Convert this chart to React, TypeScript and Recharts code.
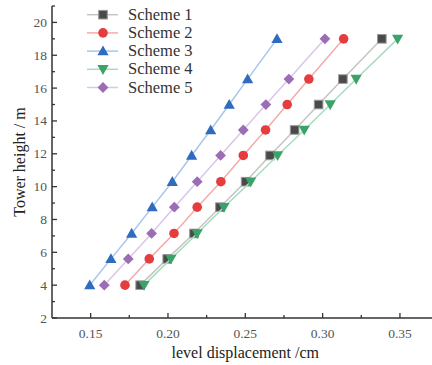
import React from 'react';
import { ScatterChart, Scatter, XAxis, YAxis, Legend } from 'recharts';

const heights = [4, 5.6, 7.15, 8.75, 10.3, 11.9, 13.45, 15, 16.55, 19];
const scheme1 = [0.182, 0.1995, 0.2168, 0.2336, 0.2502, 0.266, 0.2819, 0.2974, 0.3131, 0.3383];
const scheme2 = [0.1722, 0.1879, 0.2039, 0.2189, 0.2342, 0.2487, 0.2631, 0.2771, 0.2911, 0.3136];
const scheme3 = [0.1494, 0.1631, 0.1765, 0.1898, 0.2028, 0.2153, 0.2276, 0.2396, 0.2515, 0.2705];
const scheme4 = [0.1845, 0.2019, 0.2189, 0.2362, 0.2535, 0.2709, 0.2881, 0.3049, 0.3217, 0.3485];
const scheme5 = [0.1588, 0.1743, 0.1894, 0.2041, 0.2189, 0.234, 0.2487, 0.2633, 0.2782, 0.3015];
const seriesNames = ['Scheme 1', 'Scheme 2', 'Scheme 3', 'Scheme 4', 'Scheme 5'];
const xTicks = [0.15, 0.175, 0.2, 0.225, 0.25, 0.275, 0.3, 0.325, 0.35];
const yTicks = [2, 3, 4, 5, 6, 7, 8, 9, 10, 11, 12, 13, 14, 15, 16, 17, 18, 19, 20, 21];

const seriesValues = [scheme1, scheme2, scheme3, scheme4, scheme5];
const markerColors = ['#4a4a4a', '#e53d3d', '#2f6cc0', '#3aa468', '#9b6db5'];
const lineColors = ['#c4c4c4', '#f4abab', '#a9c6ea', '#a8dcc0', '#d9c6e8'];
const shapes = ['square', 'circle', 'triangle', 'down', 'diamond'];

const FONT = '"Liberation Serif", "DejaVu Serif", serif';

function Marker({ kind, cx, cy, color }: any) {
  const s = 4.3;
  if (kind === 'square') {
    return <rect x={cx - s} y={cy - s} width={2 * s} height={2 * s} fill={color} stroke="#9a9a9a" strokeWidth={1} />;
  }
  if (kind === 'circle') {
    return <circle cx={cx} cy={cy} r={4.8} fill={color} />;
  }
  if (kind === 'triangle') {
    const r = 5.6;
    return <polygon points={`${cx},${cy - r} ${cx + r},${cy + r * 0.75} ${cx - r},${cy + r * 0.75}`} fill={color} />;
  }
  if (kind === 'down') {
    const r = 5.6;
    return <polygon points={`${cx},${cy + r} ${cx + r},${cy - r * 0.75} ${cx - r},${cy - r * 0.75}`} fill={color} />;
  }
  const r = 5.4;
  return <polygon points={`${cx},${cy - r} ${cx + r},${cy} ${cx},${cy + r} ${cx - r},${cy}`} fill={color} />;
}

function isMajorX(v: number) {
  return Math.abs(v * 20 - Math.round(v * 20)) < 1e-6;
}

function XTick(props: any) {
  const { x, y, payload } = props;
  const v = payload.value;
  const major = isMajorX(v);
  return (
    <g>
      <line x1={x} y1={y} x2={x} y2={y - (major ? 5 : 3)} stroke="#333" strokeWidth={1.3} />
      {major && (
        <text x={x} y={y + 20} textAnchor="middle" style={{ fontFamily: FONT, fontSize: 13.5 }} fill="#555">
          {v.toFixed(2)}
        </text>
      )}
    </g>
  );
}

function YTick(props: any) {
  const { x, y, payload } = props;
  const v = payload.value;
  const major = v % 2 === 0;
  return (
    <g>
      <line x1={x} y1={y} x2={x + (major ? 5 : 3)} y2={y} stroke="#333" strokeWidth={1.3} />
      {major && (
        <text x={x - 5} y={y + 4.5} textAnchor="end" style={{ fontFamily: FONT, fontSize: 13.5 }} fill="#555">
          {v}
        </text>
      )}
    </g>
  );
}

function LegendContent() {
  return (
    <svg width={160} height={100} style={{ display: 'block' }}>
      {seriesNames.map((name, i) => {
        const cy = 14.7 + i * 18.2;
        return (
          <g key={name}>
            <line x1={7} y1={cy} x2={38} y2={cy} stroke={lineColors[i]} strokeWidth={1.5} />
            <Marker kind={shapes[i]} cx={23} cy={cy} color={markerColors[i]} />
            <text x={48} y={cy + 5} style={{ fontFamily: FONT, fontSize: 16.5 }} fill="#333">
              {name}
            </text>
          </g>
        );
      })}
    </svg>
  );
}

export default function App() {
  const datasets = seriesValues.map((vals) => vals.map((v, i) => ({ x: v, y: heights[i] })));
  return (
    <div style={{ position: 'absolute', left: 0, top: 0, width: 432, height: 365, overflow: 'hidden', background: '#fff' }}>
      <ScatterChart width={440} height={365} margin={{ top: 6, right: 1.4, bottom: 0, left: 0 }}>
        <XAxis
          type="number"
          dataKey="x"
          domain={[0.125, 0.375]}
          ticks={xTicks}
          interval={0}
          tick={<XTick />}
          tickLine={false}
          tickSize={0}
          tickMargin={0}
          height={47}
          axisLine={{ stroke: '#333', strokeWidth: 1.5 }}
          allowDataOverflow
          label={{ value: 'level displacement /cm', position: 'insideBottom', offset: 7, style: { fontFamily: FONT, fontSize: 16 }, fill: '#222' }}
        />
        <YAxis
          type="number"
          dataKey="y"
          domain={[2, 21]}
          ticks={yTicks}
          interval={0}
          tick={<YTick />}
          tickLine={false}
          tickSize={0}
          tickMargin={0}
          width={52}
          axisLine={{ stroke: '#333', strokeWidth: 1.5 }}
          allowDataOverflow
          label={{ value: 'Tower height / m', angle: -90, position: 'insideLeft', offset: 19, style: { textAnchor: 'middle', fontFamily: FONT, fontSize: 16 }, fill: '#222' }}
        />
        <Legend
          layout="vertical"
          align="center"
          verticalAlign="middle"
          content={<LegendContent />}
          wrapperStyle={{ position: 'absolute', left: 80, top: 0, width: 160, height: 100 }}
        />
        {datasets.map((d, i) => (
          <Scatter
            key={seriesNames[i]}
            name={seriesNames[i]}
            data={d}
            isAnimationActive={false}
            line={{ stroke: lineColors[i], strokeWidth: 1.5 }}
            shape={(p: any) => <Marker kind={shapes[i]} cx={p.cx} cy={p.cy} color={markerColors[i]} />}
          />
        ))}
      </ScatterChart>
    </div>
  );
}
